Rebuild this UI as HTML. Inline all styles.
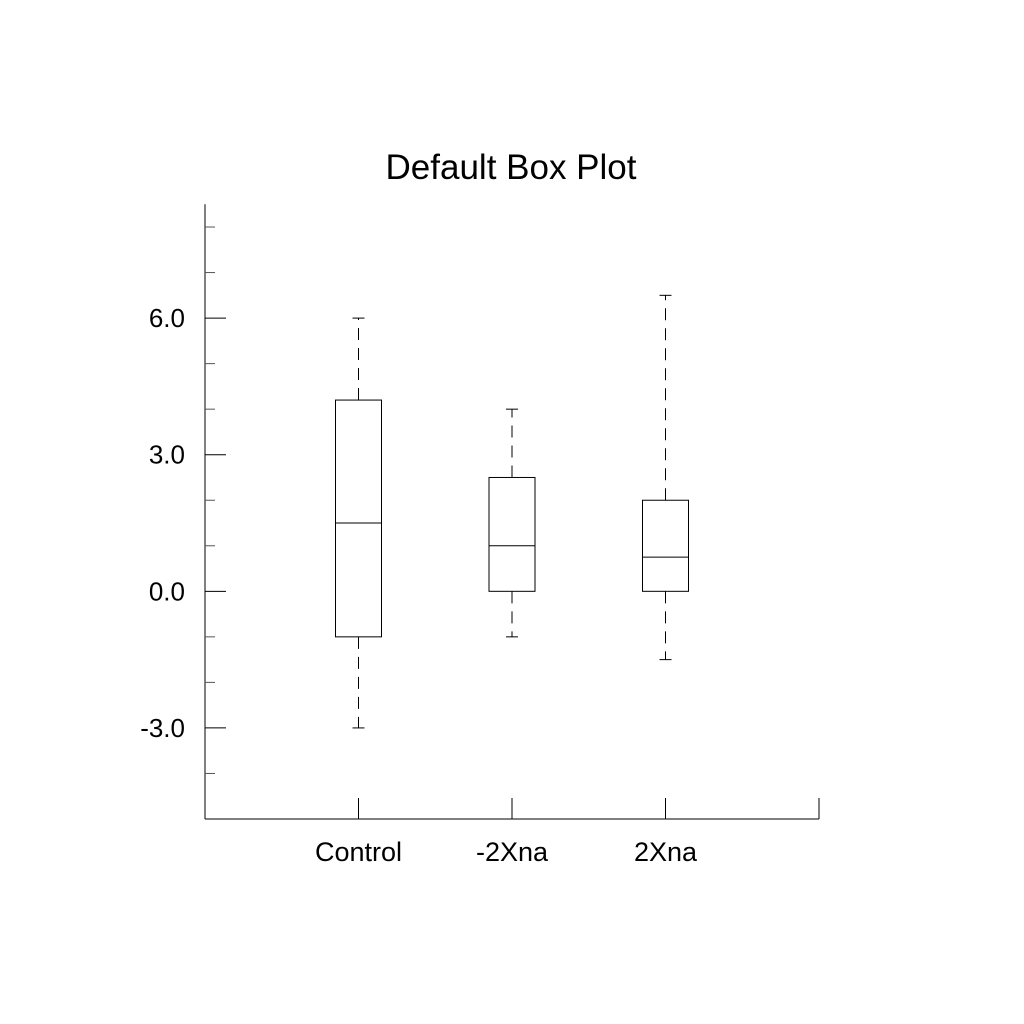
<!DOCTYPE html>
<html><head><meta charset="utf-8"><style>body{margin:0;background:#fff}svg{display:block}</style></head>
<body>
<svg id="chart" width="1024" height="1024" xmlns="http://www.w3.org/2000/svg" font-family="Liberation Sans, sans-serif">
<rect width="1024" height="1024" fill="#fff"/>
<text x="511" y="179" font-size="35" text-anchor="middle" fill="#000">Default Box Plot</text>
<g id="g"></g>
</svg>
<script>
const categories = ["Control", "-2Xna", "2Xna"];
const whiskerLow = [-3, -1, -1.5];
const q1 = [-1, 0, 0];
const medians = [1.5, 1, 0.75];
const q3 = [4.2, 2.5, 2];
const whiskerHigh = [6, 4, 6.5];
const yTicks = [6, 3, 0, -3];
const yTickLabels = ["6.0", "3.0", "0.0", "-3.0"];
const yMinor = [8, 7, 5, 4, 2, 1, -1, -2, -4];

const X0 = 205, X1 = 819, Y0 = 819, YT = 204.25;
const yMin = -5, yMax = 8.5;
const ys = v => Y0 - (v - yMin) / (yMax - yMin) * (Y0 - YT);
const xs = i => X0 + (i + 1) * (X1 - X0) / (categories.length + 1);
const g = document.getElementById('g');
const NS = 'http://www.w3.org/2000/svg';
function mk(tag, attrs) { const e = document.createElementNS(NS, tag); for (const k in attrs) e.setAttribute(k, attrs[k]); g.appendChild(e); return e; }
function line(x1, y1, x2, y2, extra) { return mk('line', Object.assign({x1, y1, x2, y2, stroke: '#000', 'stroke-width': 1}, extra || {})); }

let e = line(X0, YT, X0, Y0);


e = line(X0, Y0, X1, Y0);


e = line(X1, Y0, X1, Y0 - 21);



yTicks.forEach((v, i) => {
  const t = line(X0, ys(v), X0 + 21, ys(v));
  
  
  const l = mk('text', {x: 185, y: ys(v) + 9, 'font-size': 26, 'text-anchor': 'end', fill: '#000'});
  l.textContent = yTickLabels[i];
  
  
});
yMinor.forEach(v => {
  const t = line(X0, ys(v), X0 + 10, ys(v), {stroke: '#555'});
  
  
});

categories.forEach((c, i) => {
  const x = xs(i), hw = 23, cw = 6;
  const t = line(x, Y0, x, Y0 - 21);
  
  
  const l = mk('text', {x: x, y: Y0 + 42, 'font-size': 27, 'text-anchor': 'middle', fill: '#000'});
  l.textContent = c;
  
  
  const w1 = line(x, ys(q3[i]), x, ys(whiskerHigh[i]), {'stroke-dasharray': '12,8'});
  
  
  const w2 = line(x, ys(q1[i]), x, ys(whiskerLow[i]), {'stroke-dasharray': '12,8'});
  
  
  const c1 = line(x - cw, ys(whiskerHigh[i]), x + cw, ys(whiskerHigh[i]));
  
  
  const c2 = line(x - cw, ys(whiskerLow[i]), x + cw, ys(whiskerLow[i]));
  
  
  const b = mk('rect', {x: x - hw, y: ys(q3[i]), width: 2 * hw, height: ys(q1[i]) - ys(q3[i]), fill: 'none', stroke: '#000', 'stroke-width': 1});
  
  
  const m = line(x - hw, ys(medians[i]), x + hw, ys(medians[i]));
  
  
});
</script>
</body></html>
